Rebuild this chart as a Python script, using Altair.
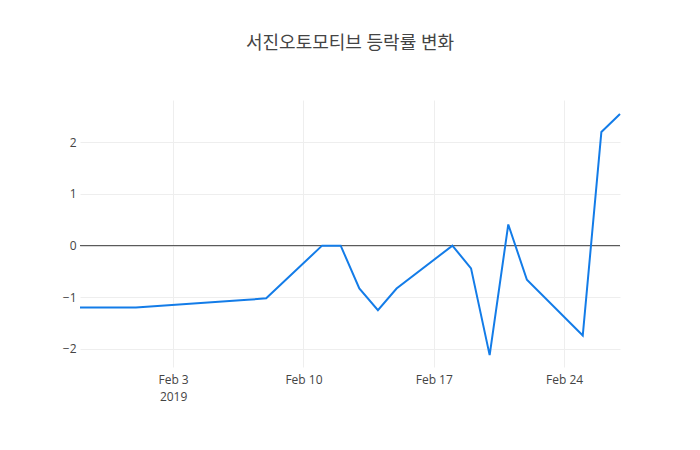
import altair as alt
import pandas as pd

dates = [
    "2019-01-29", "2019-01-30", "2019-01-31", "2019-02-01", "2019-02-07",
    "2019-02-08", "2019-02-11", "2019-02-12", "2019-02-13", "2019-02-14",
    "2019-02-15", "2019-02-18", "2019-02-19", "2019-02-20", "2019-02-21",
    "2019-02-22", "2019-02-25", "2019-02-26", "2019-02-27",
]
changes = [
    -1.2, -1.2, -1.2, -1.2, -1.05,
    -1.02, 0.0, 0.0, -0.83, -1.25,
    -0.83, 0.0, -0.44, -2.12, 0.41,
    -0.66, -1.74, 2.2, 2.55,
]
tick_dates = [(2019, 2, 3), (2019, 2, 10), (2019, 2, 17), (2019, 2, 24)]
y_ticks = [-2, -1, 0, 1, 2]

df = pd.DataFrame({"date": dates, "change": changes})

font = "Open Sans, Noto Sans CJK KR, sans-serif"

x_axis = alt.Axis(
    values=[alt.DateTime(year=y, month=m, date=d, utc=True) for y, m, d in tick_dates],
    labelExpr="[utcFormat(datum.value, '%b %-d'), datum.index == 0 ? '2019' : '']",
    title=None, domain=False, ticks=False, grid=True, gridColor="#eeeeee",
    labelColor="#444444", labelFontSize=12, labelFont=font, labelPadding=7,
    labelBaseline="top", labelLineHeight=17,
)
y_axis = alt.Axis(
    values=y_ticks, title=None, domain=False, ticks=False, grid=True,
    gridColor="#eeeeee", labelColor="#444444", labelFontSize=12, labelFont=font,
    labelPadding=4,
)

line = alt.Chart(df).mark_line(color="#137ce8", strokeWidth=2).encode(
    x=alt.X("date:T", scale=alt.Scale(type="utc",
            domain=[alt.DateTime(year=2019, month=1, date=29, utc=True),
                    alt.DateTime(year=2019, month=2, date=27, utc=True)]),
            axis=x_axis),
    y=alt.Y("change:Q", scale=alt.Scale(domain=[-2.35, 2.82], nice=False, zero=False),
            axis=y_axis),
)

zero = alt.Chart(pd.DataFrame({"z": [0]})).mark_rule(color="#444444", strokeWidth=1).encode(
    y="z:Q"
)

chart = (zero + line).properties(
    width=540,
    height=267,
    autosize=alt.AutoSizeParams(type="none"),
    padding={"left": 72, "top": 92, "right": 72, "bottom": 75},
    title=alt.TitleParams(
        "서진오토모티브 등락률 변화", font=font, fontSize=18, fontWeight="normal",
        color="#444444", anchor="middle", offset=47,
    ),
).configure_view(stroke=None)

chart.save("out.html", embed_options={"renderer": "svg", "actions": False})
